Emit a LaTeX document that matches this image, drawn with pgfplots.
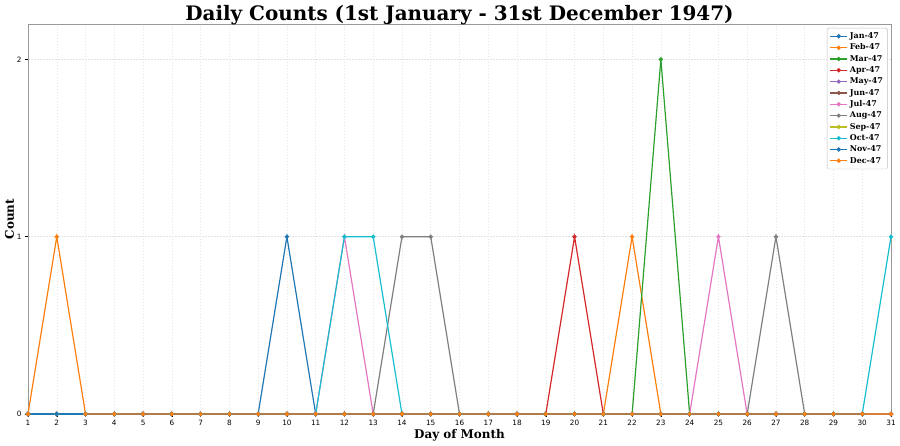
\documentclass[border=0pt]{standalone}
\usepackage{pgfplots}
\pgfplotsset{compat=1.18}
\usepackage{fontspec}
\setmainfont{DejaVu Serif}
\newfontfamily\dejavusans{DejaVu Sans}
\definecolor{c0}{HTML}{1F77B4}
\definecolor{c1}{HTML}{FF7F0E}
\definecolor{c2}{HTML}{2CA02C}
\definecolor{c3}{HTML}{D62728}
\definecolor{c4}{HTML}{9467BD}
\definecolor{c5}{HTML}{8C564B}
\definecolor{c6}{HTML}{E377C2}
\definecolor{c7}{HTML}{7F7F7F}
\definecolor{c8}{HTML}{BCBD22}
\definecolor{c9}{HTML}{17BECF}
\begin{document}
\begin{tikzpicture}
\useasboundingbox (0,0) rectangle (900bp,446bp);
\begin{axis}[
  at={(28bp,32bp)}, anchor=south west,
  scale only axis, width=863bp, height=390bp,
  xmin=1, xmax=31, ymin=0, ymax=2.2,
  xtick={1,...,31}, ytick={0,1,2},
  xtick pos=bottom, ytick pos=left,
  tick align=outside, major tick length=3bp,
  tick style={black, line width=0.5bp},
  axis line style={gray!80, line width=0.8bp},
  grid=major,
  major grid style={gray!22, dash pattern=on 1.5bp off 1.5bp, line width=0.5bp},
  ticklabel style={font=\dejavusans\fontsize{7.3}{8}\selectfont},
  /pgf/number format/assume math mode=true,
  title={\bfseries Daily Counts (1st January - 31st December 1947)},
  title style={font=\fontsize{20}{22}\selectfont, at={(0.5,1)}, anchor=base, yshift=-2bp},
  xlabel={\bfseries Day of Month},
  ylabel={\bfseries Count},
  label style={font=\fontsize{12}{14}\selectfont},
  xlabel style={yshift=3bp},
  ylabel style={yshift=-4bp},
  legend style={font=\bfseries\fontsize{8}{9}\selectfont, draw=gray!50, rounded corners=1.5bp,
    row sep=-0.1bp, inner sep=2.5bp, at={(0.996,0.99)}, anchor=north east},
  legend cell align=left,
  every axis plot/.append style={line width=1.2bp, mark=*, mark size=1.5bp},
  clip=false,
]
\addplot[c0, mark options={fill=c0}] coordinates {(1,0)(2,0)(3,0)(4,0)(5,0)(6,0)(7,0)(8,0)(9,0)(10,1)(11,0)(12,0)(13,0)(14,0)(15,0)(16,0)(17,0)(18,0)(19,0)(20,0)(21,0)(22,0)(23,0)(24,0)(25,0)(26,0)(27,0)(28,0)(29,0)(30,0)(31,0)};
\addlegendentry{Jan-47}
\addplot[c1, mark options={fill=c1}] coordinates {(1,0)(2,0)(3,0)(4,0)(5,0)(6,0)(7,0)(8,0)(9,0)(10,0)(11,0)(12,0)(13,0)(14,0)(15,0)(16,0)(17,0)(18,0)(19,0)(20,0)(21,0)(22,1)(23,0)(24,0)(25,0)(26,0)(27,0)(28,0)};
\addlegendentry{Feb-47}
\addplot[c2, mark options={fill=c2}] coordinates {(1,0)(2,0)(3,0)(4,0)(5,0)(6,0)(7,0)(8,0)(9,0)(10,0)(11,0)(12,0)(13,0)(14,0)(15,0)(16,0)(17,0)(18,0)(19,0)(20,0)(21,0)(22,0)(23,2)(24,0)(25,0)(26,0)(27,0)(28,0)(29,0)(30,0)(31,0)};
\addlegendentry{Mar-47}
\addplot[c3, mark options={fill=c3}] coordinates {(1,0)(2,0)(3,0)(4,0)(5,0)(6,0)(7,0)(8,0)(9,0)(10,0)(11,0)(12,0)(13,0)(14,0)(15,0)(16,0)(17,0)(18,0)(19,0)(20,1)(21,0)(22,0)(23,0)(24,0)(25,0)(26,0)(27,0)(28,0)(29,0)(30,0)};
\addlegendentry{Apr-47}
\addplot[c4, mark options={fill=c4}] coordinates {(1,0)(2,0)(3,0)(4,0)(5,0)(6,0)(7,0)(8,0)(9,0)(10,0)(11,0)(12,0)(13,0)(14,0)(15,0)(16,0)(17,0)(18,0)(19,0)(20,0)(21,0)(22,0)(23,0)(24,0)(25,0)(26,0)(27,0)(28,0)(29,0)(30,0)(31,0)};
\addlegendentry{May-47}
\addplot[c5, mark options={fill=c5}] coordinates {(1,0)(2,0)(3,0)(4,0)(5,0)(6,0)(7,0)(8,0)(9,0)(10,0)(11,0)(12,0)(13,0)(14,0)(15,0)(16,0)(17,0)(18,0)(19,0)(20,0)(21,0)(22,0)(23,0)(24,0)(25,0)(26,0)(27,0)(28,0)(29,0)(30,0)};
\addlegendentry{Jun-47}
\addplot[c6, mark options={fill=c6}] coordinates {(1,0)(2,0)(3,0)(4,0)(5,0)(6,0)(7,0)(8,0)(9,0)(10,0)(11,0)(12,1)(13,0)(14,0)(15,0)(16,0)(17,0)(18,0)(19,0)(20,0)(21,0)(22,0)(23,0)(24,0)(25,1)(26,0)(27,0)(28,0)(29,0)(30,0)(31,0)};
\addlegendentry{Jul-47}
\addplot[c7, mark options={fill=c7}] coordinates {(1,0)(2,0)(3,0)(4,0)(5,0)(6,0)(7,0)(8,0)(9,0)(10,0)(11,0)(12,0)(13,0)(14,1)(15,1)(16,0)(17,0)(18,0)(19,0)(20,0)(21,0)(22,0)(23,0)(24,0)(25,0)(26,0)(27,1)(28,0)(29,0)(30,0)(31,0)};
\addlegendentry{Aug-47}
\addplot[c8, mark options={fill=c8}] coordinates {(1,0)(2,0)(3,0)(4,0)(5,0)(6,0)(7,0)(8,0)(9,0)(10,0)(11,0)(12,0)(13,0)(14,0)(15,0)(16,0)(17,0)(18,0)(19,0)(20,0)(21,0)(22,0)(23,0)(24,0)(25,0)(26,0)(27,0)(28,0)(29,0)(30,0)};
\addlegendentry{Sep-47}
\addplot[c9, mark options={fill=c9}] coordinates {(1,0)(2,0)(3,0)(4,0)(5,0)(6,0)(7,0)(8,0)(9,0)(10,0)(11,0)(12,1)(13,1)(14,0)(15,0)(16,0)(17,0)(18,0)(19,0)(20,0)(21,0)(22,0)(23,0)(24,0)(25,0)(26,0)(27,0)(28,0)(29,0)(30,0)(31,1)};
\addlegendentry{Oct-47}
\addplot[c0, mark options={fill=c0}] coordinates {(1,0)(2,0)(3,0)(4,0)(5,0)(6,0)(7,0)(8,0)(9,0)(10,0)(11,0)(12,0)(13,0)(14,0)(15,0)(16,0)(17,0)(18,0)(19,0)(20,0)(21,0)(22,0)(23,0)(24,0)(25,0)(26,0)(27,0)(28,0)(29,0)(30,0)};
\addlegendentry{Nov-47}
\addplot[c1, mark options={fill=c1}] coordinates {(1,0)(2,1)(3,0)(4,0)(5,0)(6,0)(7,0)(8,0)(9,0)(10,0)(11,0)(12,0)(13,0)(14,0)(15,0)(16,0)(17,0)(18,0)(19,0)(20,0)(21,0)(22,0)(23,0)(24,0)(25,0)(26,0)(27,0)(28,0)(29,0)(30,0)(31,0)};
\addlegendentry{Dec-47}
\end{axis}
\end{tikzpicture}
\end{document}
